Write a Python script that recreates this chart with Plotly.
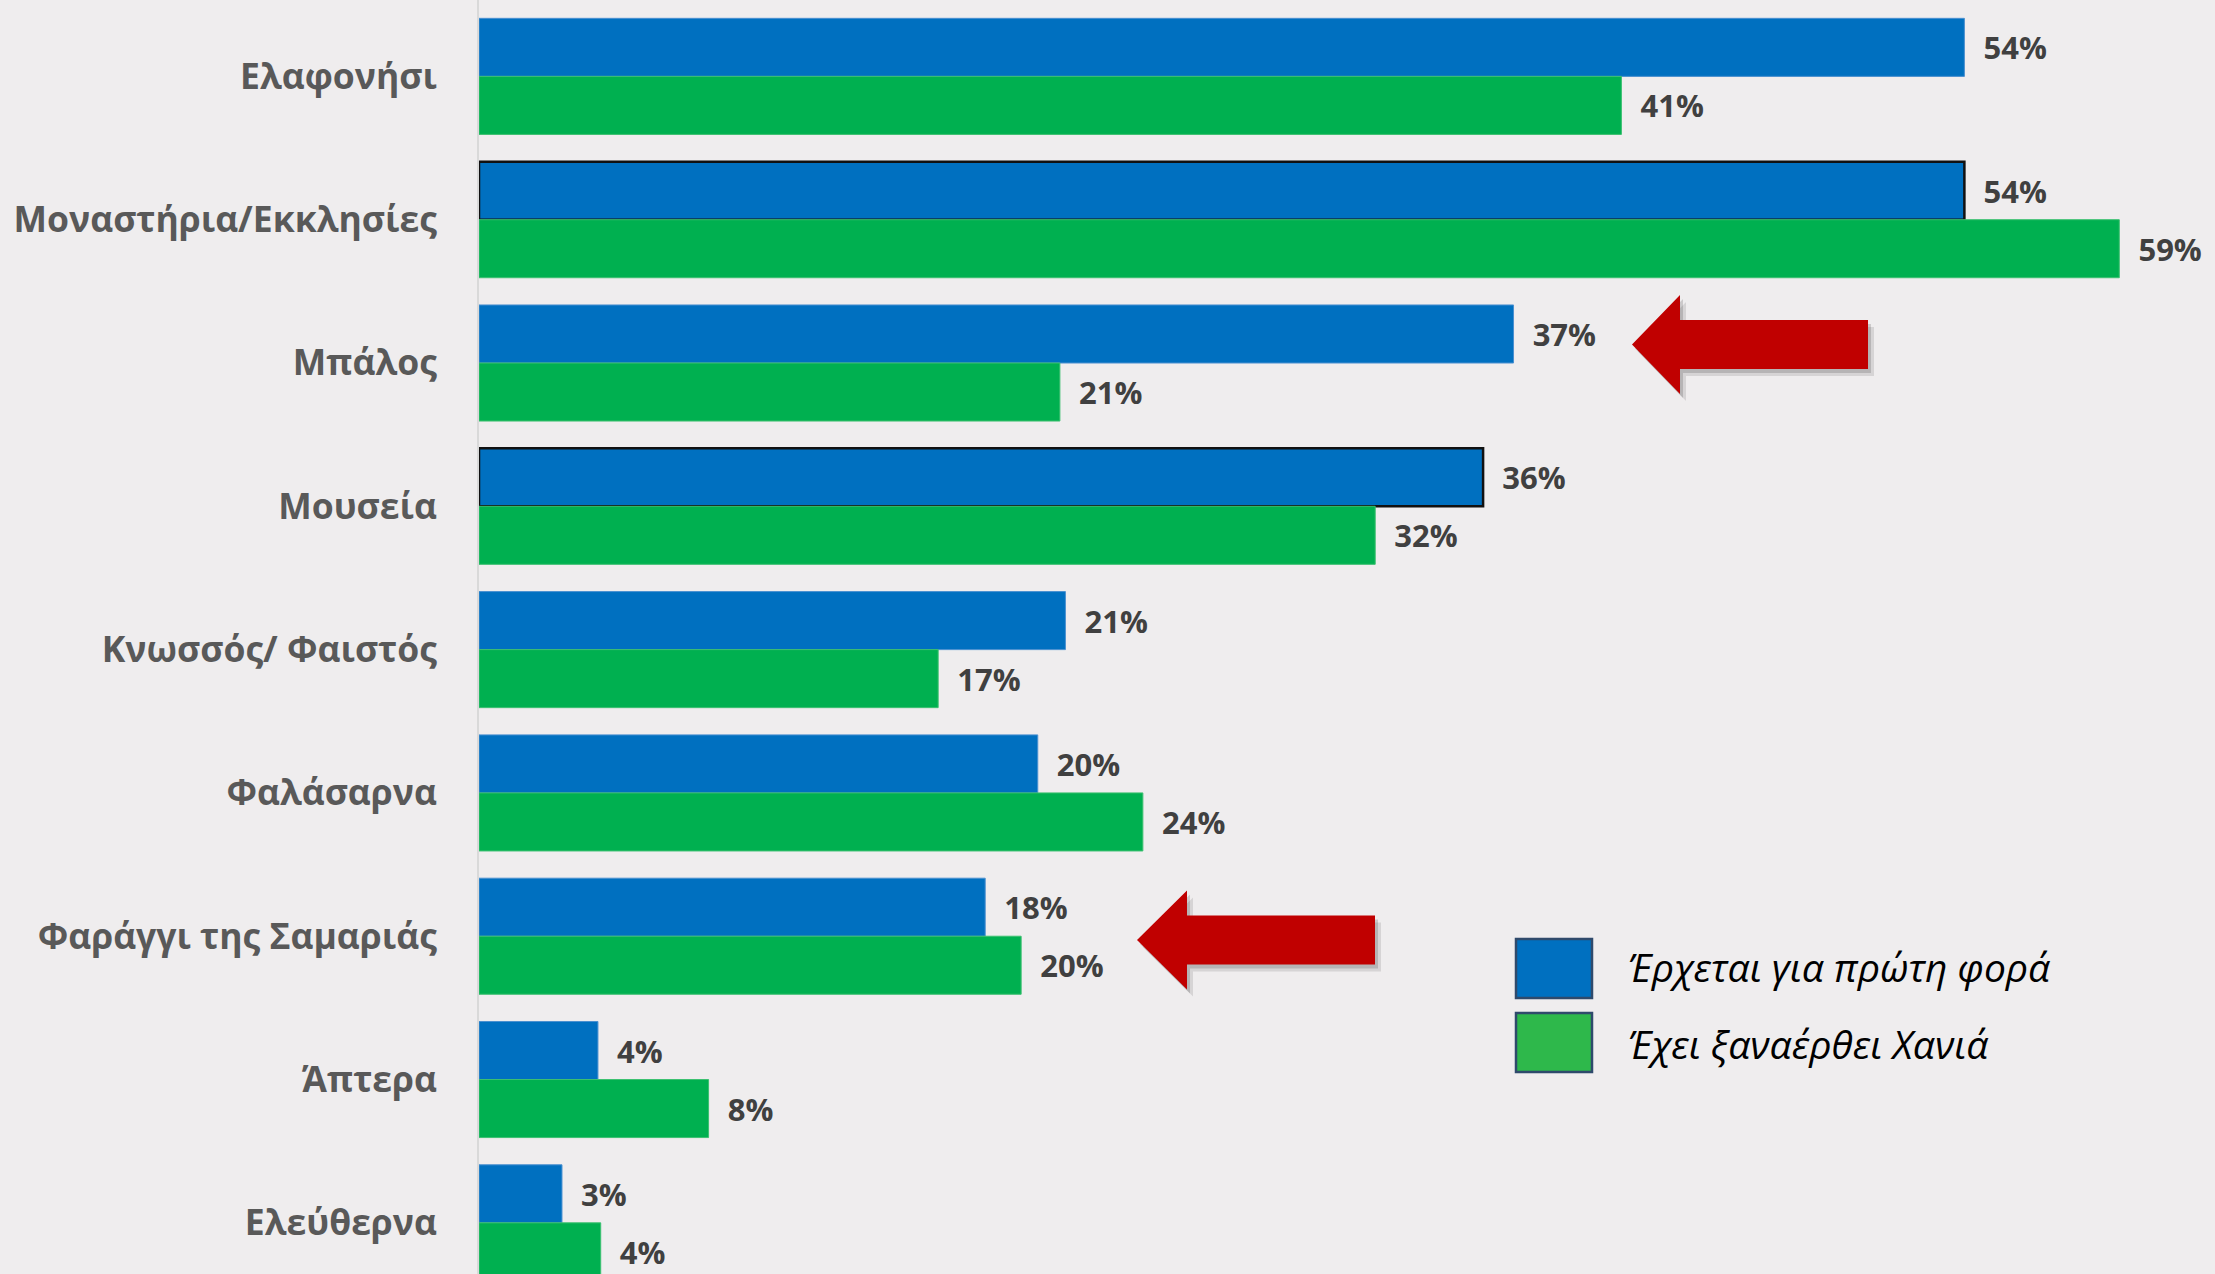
import plotly.graph_objects as go

# categories, top to bottom
categories = [
    "Ελαφονήσι",
    "Μοναστήρια/Εκκλησίες",
    "Μπάλος",
    "Μουσεία",
    "Κνωσσός/ Φαιστός",
    "Φαλάσαρνα",
    "Φαράγγι της Σαμαριάς",
    "Άπτερα",
    "Ελεύθερνα",
]

# % (labels show the rounded value)
first_visit = [53.7, 53.7, 37.4, 36.3, 21.2, 20.2, 18.3, 4.3, 3.0]
returning = [41.3, 59.3, 21.0, 32.4, 16.6, 24.0, 19.6, 8.3, 4.4]

series_names = ["Έρχεται για πρώτη φορά", "Έχει ξαναέρθει Χανιά"]
outlined = ["Μοναστήρια/Εκκλησίες", "Μουσεία"]

BLUE = "#0070C0"
GREEN = "#00B050"
LEGEND_GREEN = "#2EB84B"
RED = "#C00000"
BG = "#EFEDEE"

W, H = 2215, 1274
L = 479  # left margin = y axis position


def px(x):
    return (x - L) / (W - L)


def py(y):
    return 1 - y / H


label_font = dict(family="Open Sans", size=31, color="#404040", weight="bold")

fig = go.Figure()

blue_line_col = ["#111111" if c in outlined else "#4A90D0" for c in categories]
blue_line_w = [2.5 if c in outlined else 1 for c in categories]

fig.add_bar(
    y=categories, x=first_visit, orientation="h", name=series_names[0],
    marker=dict(color=BLUE, line=dict(color=blue_line_col, width=blue_line_w)),
    texttemplate="\u00a0\u00a0%{x:.0f}%", textposition="outside",
    textfont=label_font, cliponaxis=False, constraintext="none",
)
fig.add_bar(
    y=categories, x=returning, orientation="h", name=series_names[1],
    marker=dict(color=GREEN, line=dict(color="#3CC070", width=1)),
    texttemplate="\u00a0\u00a0%{x:.0f}%", textposition="outside",
    textfont=label_font, cliponaxis=False, constraintext="none",
)

shapes = []
annotations = []


def arrow(tip_x, cy, head_x, head_half, shaft_half, end_x, color, dx=0, dy=0):
    pts = [
        (tip_x, cy),
        (head_x, cy - head_half),
        (head_x, cy - shaft_half),
        (end_x, cy - shaft_half),
        (end_x, cy + shaft_half),
        (head_x, cy + shaft_half),
        (head_x, cy + head_half),
    ]
    path = "M " + " L ".join(f"{px(x + dx):.5f},{py(y + dy):.5f}" for x, y in pts) + " Z"
    return dict(type="path", xref="paper", yref="paper", path=path,
                fillcolor=color, line=dict(width=0), layer="above")


for tip_x, cy, head_x, end_x in [(1632, 344.5, 1680, 1868), (1137, 940, 1187, 1375)]:
    shapes.append(arrow(tip_x, cy, head_x, 49.5, 24.5, end_x, "rgba(0,0,0,0.10)", 6, 7))
    shapes.append(arrow(tip_x, cy, head_x, 49.5, 24.5, end_x, "rgba(0,0,0,0.15)", 3, 4))
    shapes.append(arrow(tip_x, cy, head_x, 49.5, 24.5, end_x, RED))

# hand-drawn legend
for (y0, y1), fill, name, ty in [
    ((939, 998), BLUE, series_names[0], 966),
    ((1013, 1072), LEGEND_GREEN, series_names[1], 1043),
]:
    shapes.append(dict(type="rect", xref="paper", yref="paper",
                       x0=px(1516), x1=px(1592), y0=py(y1), y1=py(y0),
                       fillcolor=fill, line=dict(color="#2F4A6B", width=2.5)))
    annotations.append(dict(xref="paper", yref="paper", x=px(1626), y=py(ty),
                            xanchor="left", yanchor="middle", showarrow=False,
                            text=f"<i>{name}</i>",
                            font=dict(family="Open Sans", size=39, color="#000000")))

fig.update_layout(
    width=W, height=H, autosize=False,
    margin=dict(l=L, r=0, t=0, b=0, pad=0),
    paper_bgcolor=BG, plot_bgcolor=BG,
    barmode="group", bargap=0.19, bargroupgap=0,
    showlegend=False,
    shapes=shapes, annotations=annotations,
    xaxis=dict(range=[0, 62.76], visible=False, fixedrange=True),
    yaxis=dict(
        type="category", categoryorder="array", categoryarray=categories,
        range=[8.357, -0.533],
        showline=True, linecolor="#D9D9D9", linewidth=2,
        ticks="outside", ticklen=33, tickcolor="rgba(0,0,0,0)",
        tickfont=dict(family="Open Sans", size=35.5, color="#595959", weight="bold"),
        showgrid=False, zeroline=False,
    ),
)

# drop the default page margin so the figure sits flush in the window
fig.write_html("out.html", config={"displayModeBar": False},
               post_script="document.body.style.margin='0';")
